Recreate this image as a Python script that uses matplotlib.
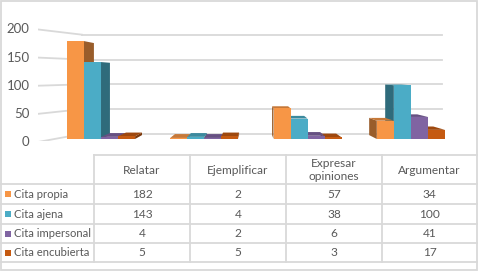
import numpy as np
import matplotlib.pyplot as plt
import matplotlib.colors as mc
from matplotlib.patches import Polygon, Rectangle

plt.rcParams['font.family'] = ['Lato', 'DejaVu Sans']

categorias = ['Relatar', 'Ejemplificar', 'Expresar\nopiniones', 'Argumentar']
series = ['Cita propia', 'Cita ajena', 'Cita impersonal', 'Cita encubierta']
cita_propia = [182, 2, 57, 34]
cita_ajena = [143, 4, 38, 100]
cita_impersonal = [4, 2, 6, 41]
cita_encubierta = [5, 5, 3, 17]
valores = [cita_propia, cita_ajena, cita_impersonal, cita_encubierta]
ticks_y = [0, 50, 100, 150, 200]

colores = ['#F79646', '#4BACC6', '#8064A2', '#C55A11']
gris = '#595959'
linea = '#D9D9D9'

W, H = 479, 272
fig = plt.figure(figsize=(W / 100, H / 100), dpi=100)

# ejes de las barras (perspectiva simple hacia un punto de fuga)
ax = fig.add_axes([38 / W, (H - 141) / H, 408 / W, 121 / H])
ax.set_xlim(-0.61, 3.34)
ax.set_ylim(-3.72, 221.2)
ax.axis('off')

VP = np.array([1.44, 121.0])
K_BAR, K_WALL, K_LABEL = 0.06, 0.077, -0.046


def fondo(p, k):
    p = np.asarray(p, float)
    return p + k * (VP - p)


def oscuro(c, f):
    r, g, b = mc.to_rgb(c)
    return (r * f, g * f, b * f)


# líneas de la pared y etiquetas del eje
for v in ticks_y:
    a = fondo((-0.32, v), K_WALL)
    l = fondo((-0.61, v), K_LABEL)
    ax.plot([a[0], 3.30], [a[1], a[1]], color=linea, lw=1.3, zorder=0)
    ax.plot([-0.61, a[0]], [l[1], a[1]], color=linea, lw=1.3, zorder=0)
    ax.text(-0.69, l[1], str(v), ha='right', va='center', color=gris, fontsize=9.5)

ancho = 0.165
for i in range(len(categorias)):
    orden = range(4) if i < VP[0] else range(3, -1, -1)
    for j in orden:
        h = valores[j][i]
        x0 = i + (j - 2) * ancho
        x1 = x0 + ancho
        c = colores[j]
        xs = x1 if i < VP[0] else x0
        lado = [(xs, 0), (xs, h), fondo((xs, h), K_BAR), fondo((xs, 0), K_BAR)]
        ax.add_patch(Polygon(lado, closed=True, fc=oscuro(c, 0.62), ec='none', zorder=1))
        if h < VP[1]:
            tapa = [(x0, h), (x1, h), fondo((x1, h), K_BAR), fondo((x0, h), K_BAR)]
            ax.add_patch(Polygon(tapa, closed=True, fc=oscuro(c, 0.8), ec='none', zorder=1))
        ax.add_patch(Rectangle((x0, 0), ancho, h, fc=c, ec='none', zorder=1))

# tabla de datos
tb = fig.add_axes([0, 0, 1, 1])
tb.set_xlim(0, W)
tb.set_ylim(H, 0)
tb.axis('off')
tb.patch.set_alpha(0)

cols = [94, 190, 286, 382, 477]
filas = [184, 204, 224, 243, 262]
tb.plot([cols[0], cols[-1]], [155, 155], color=linea, lw=1.3)
for y in filas:
    tb.plot([1, cols[-1]], [y, y], color=linea, lw=1.3)
for x in cols[:-1]:
    tb.plot([x, x], [155, filas[-1]], color=linea, lw=1.3)
tb.add_patch(Rectangle((1, 1), 476, 269, fc='none', ec=linea, lw=1.3))

fs = 8.6
for k, cat in enumerate(categorias):
    xc = (cols[k] + cols[k + 1]) / 2
    tb.text(xc, 170, cat, ha='center', va='center', color=gris, fontsize=fs,
            linespacing=1.25)
    for j in range(4):
        yc = (filas[j] + filas[j + 1]) / 2
        tb.text(xc, yc, str(valores[j][k]), ha='center', va='center', color=gris, fontsize=fs)

for j, nombre in enumerate(series):
    yc = (filas[j] + filas[j + 1]) / 2
    tb.add_patch(Rectangle((5, yc - 3), 6, 6, fc=colores[j], ec='none'))
    tb.text(14.5, yc, nombre, ha='left', va='center', color=gris, fontsize=8.1)

fig.savefig('out.png', dpi=100)
